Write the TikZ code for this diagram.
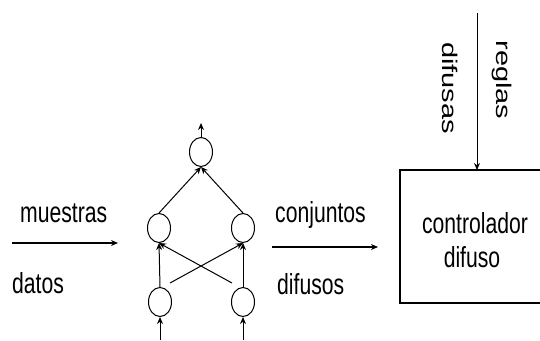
\documentclass[tikz,border=0pt]{standalone}
\usepackage{fontspec}
\setmainfont{Liberation Sans}[FakeStretch=0.73]
\newfontfamily\upfont{Liberation Sans}
\usetikzlibrary{shapes.geometric,arrows.meta}

\begin{document}
\begin{tikzpicture}[x=1pt,y=-1pt,
 neuron/.style={draw, ellipse, line width=1pt, minimum width=23pt, minimum height=29pt, inner sep=0pt},
 lbl/.style={font=\fontsize{29}{33}\selectfont, inner sep=0pt},
 vlbl/.style={font=\upfont\fontsize{29}{33}\selectfont, inner sep=0pt, rotate=-90, yscale=0.73},
 >={Stealth[length=7pt,width=6pt]}]
\useasboundingbox (0,0) rectangle (540,340);
\coordinate (in1) at (12,243);
\coordinate (out1) at (118,243);
\coordinate (in2) at (272,247);
\coordinate (out2) at (378,247);
\coordinate (rtop) at (477,13);
\coordinate (nout) at (201,123);
\coordinate (bl) at (160,340);
\coordinate (br) at (243,340);
\coordinate (xl) at (170,283);
\coordinate (xr) at (232,283);
 \node[neuron] (top) at (201,152) {};
 \node[neuron] (ml) at (159,228) {};
 \node[neuron] (mr) at (243,228) {};
 \node[neuron] (bnl) at (160,302) {};
 \node[neuron] (bnr) at (243,302) {};
 \draw[->, line width=1pt] (top) -- (nout);
 \draw[->, line width=1pt] (ml.north) -- (top.south);
 \draw[->, line width=1pt] (mr.north) -- (top.south);
 \draw[->, line width=1pt] (bnl.north) -- (ml.south);
 \draw[->, line width=1pt] (bnr.north) -- (mr.south);
 \draw[->, line width=1pt] (xl) -- (mr.south);
 \draw[->, line width=1pt] (xr) -- (ml.south);
 \draw[->, line width=1pt] (bl) -- (bnl.south);
 \draw[->, line width=1pt] (br) -- (bnr.south);
 \draw[->, line width=1.6pt] (in1) -- (out1);
 \draw[->, line width=1.6pt] (in2) -- (out2);
 \node[lbl, anchor=base west] (muestras) at (20,222) {muestras};
 \node[lbl, anchor=base west] (datos) at (12,293) {datos};
 \node[lbl, anchor=base west] (conjuntos) at (275,222) {conjuntos};
 \node[lbl, anchor=base west] (difusos) at (277,294) {difusos};
 \draw[line width=1.8pt] (400,170) rectangle (560,303);
 \node[lbl, anchor=base] (ctrl) at (475,233) {controlador};
 \node[lbl, anchor=base] (dif) at (472,267) {difuso};
 \coordinate (boxtop) at (477,170);
 \draw[->, line width=0.9pt] (rtop) -- (boxtop);
 \node[vlbl] (reglas) at (502,80) {reglas};
 \node[vlbl] (difusas) at (450,88) {difusas};
\end{tikzpicture}
\end{document}
